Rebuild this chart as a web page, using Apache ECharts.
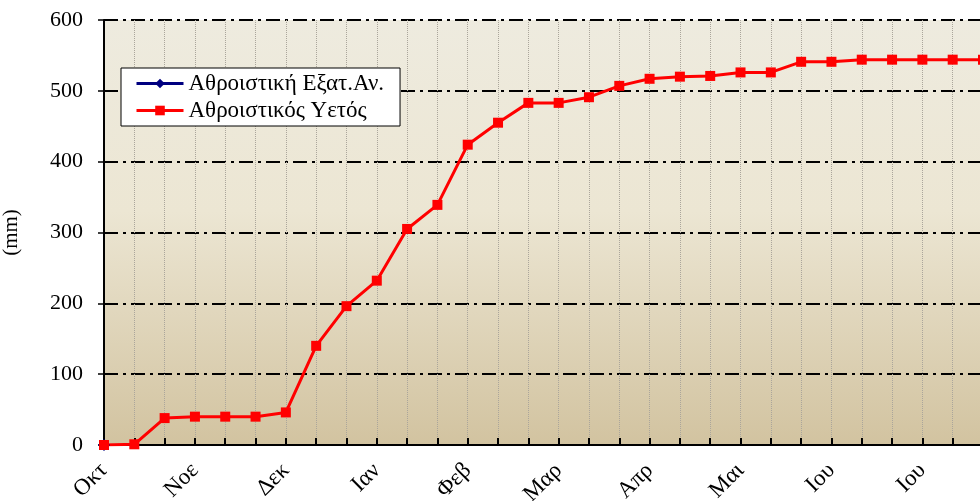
<!DOCTYPE html>
<html><head><meta charset="utf-8">
<script src="https://cdn.jsdelivr.net/npm/echarts@6/dist/echarts.min.js"></script>
<style>html,body{margin:0;padding:0;background:#fff}#c{width:980px;height:501px}</style>
</head><body><div id="c"></div>
<script>
const categories = ['Οκτ','','','Νοε','','','Δεκ','','','Ιαν','','','Φεβ','','','Μαρ','','','Απρ','','','Μαι','','','Ιου','','','Ιου','',''];
const evapCum = [0];
const rainCum = [0,1,38,40,40,40,46,140,196,232,305,339,424,455,483,483,491,507,517,520,521,526,526,541,541,544,544,544,544,544];
const yTicks = {min:0, max:600, interval:100};
const seriesNames = ['Αθροιστική Εξατ.Αν.','Αθροιστικός Υετός'];

const FONT = 'Liberation Serif';
const chart = echarts.init(document.getElementById('c'), null, {renderer:'canvas'});
chart.setOption({
  animation:false,
  textStyle:{fontFamily:FONT},
  grid:{left:104, top:20, width:879, height:425, show:true, borderWidth:0, containLabel:false, outerBoundsMode:'none',
    backgroundColor:new echarts.graphic.LinearGradient(0,0,0,1,[
      {offset:0,color:'#eeebdf'},{offset:0.45,color:'#ece6d3'},{offset:1,color:'#d2c3a0'}])},
  legend:{orient:'vertical', left:121, top:68, backgroundColor:'#fff', borderColor:'#000', borderWidth:1,
    padding:[4,16,4,14], itemWidth:47, itemHeight:12, itemGap:4,
    lineStyle:{width:3},
    textStyle:{fontFamily:FONT, fontSize:23, color:'#000'},
    data:seriesNames},
  xAxis:{type:'category', data:categories, boundaryGap:false,
    axisLine:{lineStyle:{color:'#000', width:2}},
    axisTick:{show:true, inside:true, length:7, interval:0, lineStyle:{color:'#000', width:2}},
    axisLabel:{interval:0, rotate:45, margin:22, fontFamily:FONT, fontSize:23, color:'#000'},
    splitLine:{show:true, interval:0, lineStyle:{color:'#aaa59b', type:'dotted', width:1}}},
  yAxis:{type:'value', min:yTicks.min, max:yTicks.max, interval:yTicks.interval,
    name:'(mm)', nameLocation:'middle', nameGap:82, nameRotate:90,
    nameTextStyle:{fontFamily:FONT, fontSize:21, color:'#000'},
    axisLine:{show:true, lineStyle:{color:'#000', width:2}},
    axisTick:{show:true, length:6, lineStyle:{color:'#000', width:1.5}},
    axisLabel:{margin:21, fontFamily:FONT, fontSize:22, color:'#000'},
    splitLine:{show:true, lineStyle:{color:'#000', width:2, type:[14,5,3,5]}}},
  series:[
    {name:seriesNames[0], type:'line', data:evapCum, symbol:'diamond', symbolSize:12,
      lineStyle:{color:'#000080', width:3}, itemStyle:{color:'#000080'}},
    {name:seriesNames[1], type:'line', data:rainCum, symbol:'rect', symbolSize:10,
      lineStyle:{color:'#ff0000', width:3}, itemStyle:{color:'#ff0000'}}
  ]
});
</script></body></html>
